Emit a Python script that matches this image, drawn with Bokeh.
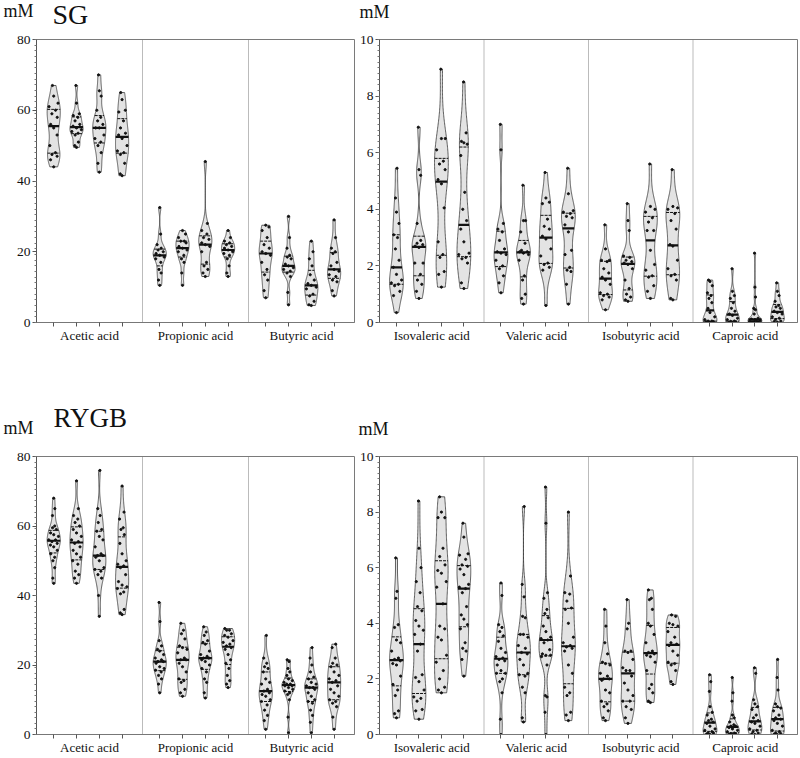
import numpy as np
from bokeh.plotting import figure
from bokeh.models import Range1d, FixedTicker, Span, Label
from bokeh.layouts import column, row
from bokeh.embed import file_html
from bokeh.resources import INLINE

# ---------------- data (mM), four groups per acid ----------------
MAJOR_ACIDS = ["Acetic acid", "Propionic acid", "Butyric acid"]
MINOR_ACIDS = ["Isovaleric acid", "Valeric acid", "Isobutyric acid", "Caproic acid"]
MAJOR_TICKS = [0, 20, 40, 60, 80]
MINOR_TICKS = [0, 2, 4, 6, 8, 10]

SG_ACETIC = [
    [67, 64, 62, 61, 60, 59, 58, 56, 55, 53, 50, 48, 47.5, 47, 46, 44],
    [67, 62, 59, 58.5, 58, 57, 56, 55.5, 55, 54.5, 54, 53.5, 53, 51, 50, 49.5],
    [70, 65.5, 64, 60, 58, 57, 56, 55, 55, 53, 52, 51, 50, 48, 45, 42.5],
    [65, 63, 60, 59.5, 57, 55, 53.5, 53, 52, 50, 48.5, 48, 47.5, 45, 42, 41.5],
]
SG_PROPIONIC = [
    [32.5, 25, 22, 21, 20.5, 20, 19.5, 19, 18.5, 18, 17, 15, 14, 12, 10.5],
    [26, 25, 24, 23, 23, 22.5, 21.5, 21, 20.5, 20, 19, 18, 17, 14, 10.5],
    [45.5, 28, 26, 25, 24, 23.5, 22.5, 22, 21.5, 20, 17, 16, 15, 14, 13],
    [26, 24, 23, 22.5, 22, 21.5, 21, 20.5, 20, 19.5, 19, 18, 16, 14, 13],
]
SG_BUTYRIC = [
    [27.5, 27, 26, 24, 22, 21, 20, 19.5, 19, 17, 15, 13.5, 12, 9, 7],
    [30, 24, 21, 19, 18.5, 18, 16.5, 16, 15.5, 15, 14.5, 14, 13, 8.5, 5],
    [23, 20, 18, 16, 13.5, 12, 11, 10.5, 10, 9.5, 8, 7.5, 6, 5, 4.8],
    [29, 24, 21, 20, 19.5, 17, 16, 15, 14.5, 13.5, 13, 12, 11.5, 9, 7.5],
]
SG_ISOVALERIC = [
    [5.45, 4.4, 3.9, 3.5, 3.1, 3.0, 2.6, 2.2, 1.95, 1.7, 1.5, 1.4, 1.35, 1.3, 1.1, 0.95, 0.35],
    [6.9, 5.4, 5.2, 3.5, 2.9, 2.8, 2.75, 2.7, 2.65, 2.1, 2.1, 1.7, 1.5, 1.35, 1.1, 0.85],
    [8.95, 6.5, 6.5, 6.1, 5.7, 5.6, 5.4, 5.05, 4.9, 4.05, 2.85, 2.4, 2.3, 1.8, 1.7, 1.25],
    [8.5, 6.7, 6.4, 6.35, 6.3, 5.9, 4.6, 4.0, 3.6, 3.3, 2.85, 2.45, 2.4, 2.3, 2.25, 2.1, 1.4, 1.2],
]
SG_VALERIC = [
    [7.0, 6.1, 3.5, 3.3, 3.2, 2.9, 2.6, 2.5, 2.45, 2.4, 2.2, 2.0, 1.9, 1.65, 1.4, 1.05],
    [4.85, 3.6, 3.6, 3.2, 2.8, 2.55, 2.5, 2.5, 2.45, 2.4, 2.2, 1.65, 1.5, 1.0, 0.85, 0.65],
    [5.3, 4.4, 4.25, 4.2, 3.65, 3.4, 3.3, 3.05, 2.95, 2.6, 2.35, 2.1, 2.05, 1.95, 1.85, 0.6],
    [5.45, 4.55, 3.95, 3.9, 3.85, 3.75, 3.7, 3.45, 3.2, 2.55, 2.4, 1.95, 1.85, 1.8, 1.35, 0.65],
]
SG_ISOBUTYRIC = [
    [3.45, 2.6, 2.2, 2.2, 2.15, 1.9, 1.75, 1.6, 1.5, 1.35, 1.05, 1.0, 0.95, 0.9, 0.8, 0.45],
    [4.2, 3.6, 3.25, 2.35, 2.3, 2.2, 2.15, 2.1, 2.05, 1.9, 1.5, 1.2, 1.0, 0.9, 0.8, 0.75],
    [5.6, 4.1, 4.0, 3.9, 3.7, 3.55, 3.25, 3.25, 2.55, 2.05, 1.85, 1.65, 1.6, 1.3, 1.1, 0.85],
    [5.4, 4.1, 4.05, 4.0, 3.85, 3.6, 3.3, 2.75, 2.7, 2.2, 1.9, 1.7, 1.65, 1.5, 0.85, 0.8],
]
SG_CAPROIC = [
    [1.5, 1.45, 1.3, 1.05, 0.95, 0.85, 0.7, 0.5, 0.35, 0.2, 0.1, 0.05, 0.05, 0.03, 0.02, 0.01],
    [1.9, 1.1, 0.95, 0.85, 0.7, 0.5, 0.4, 0.3, 0.25, 0.15, 0.1, 0.05, 0.04, 0.02, 0.01, 0.0],
    [2.45, 1.25, 0.9, 0.5, 0.45, 0.3, 0.15, 0.12, 0.1, 0.08, 0.05, 0.04, 0.03, 0.02, 0.01, 0.0],
    [1.4, 1.1, 0.95, 0.75, 0.6, 0.55, 0.5, 0.4, 0.35, 0.3, 0.2, 0.15, 0.1, 0.05, 0.03, 0.01],
]

RYGB_ACETIC = [
    [68, 65, 63, 60, 59.5, 59, 58, 57.5, 57, 56, 56, 55.5, 55, 54.5, 54, 53, 52, 51, 50, 48, 45, 43.5],
    [73, 65, 63, 62, 61, 60, 59, 58, 57, 56, 55.5, 55, 54, 53, 52, 51, 50, 49, 47, 46, 45, 43.5],
    [76, 65, 63, 61, 59, 58.5, 57, 56, 54, 52, 51.5, 51.5, 51, 50, 48, 47.5, 47, 46, 45, 40, 34],
    [71.5, 64, 62, 59.5, 59, 57.5, 55, 52, 50, 49, 48.5, 48, 46, 44, 43, 42.5, 42, 41, 40.5, 36, 35, 34.5],
]
RYGB_PROPIONIC = [
    [38, 32.5, 27, 25.5, 24.5, 24, 23, 22, 21.5, 21, 21, 20.5, 19.5, 19, 18.5, 18, 17, 16, 14.5, 12],
    [32, 30, 29, 27.5, 25.5, 25, 24.5, 23.5, 22, 21.5, 21.5, 20.5, 19.5, 18, 16, 15.5, 15, 13, 12, 11],
    [31, 29.5, 28.5, 27, 26.5, 26, 24, 23, 22.5, 22, 22, 21.5, 21, 20, 19, 18, 16, 15, 12, 10.5],
    [30.5, 30, 30, 29, 28.5, 28, 27, 26.5, 26, 25.5, 25, 24.5, 23, 21.5, 20.5, 19, 17, 15.5, 14.5, 13.5],
]
RYGB_BUTYRIC = [
    [28.5, 22, 20.5, 19.5, 19, 18, 16, 15, 14.5, 13, 12.5, 12, 11.5, 11, 10, 9.5, 8.5, 7, 5.5, 4, 1.5],
    [21.5, 21, 19, 18, 17, 16, 15.5, 15, 14.5, 14.5, 14, 14, 13.5, 13, 12.5, 12, 11.5, 10, 5, 0.5],
    [25, 22, 20, 18, 16.5, 16, 15, 14.5, 14, 13.5, 13.5, 13, 12, 11, 10, 9.5, 9, 7, 5.5, 3.5, 0.5],
    [26, 25, 22, 20.5, 20, 19.5, 18, 17, 16, 15.5, 15, 14, 13, 12, 11, 10, 9.5, 9, 8, 5, 1.5],
]
RYGB_ISOVALERIC = [
    [6.35, 5.15, 4.9, 3.95, 3.85, 3.4, 3.3, 3.0, 2.75, 2.7, 2.65, 2.55, 2.5, 2.1, 1.8, 1.6, 1.4, 0.85, 0.75, 0.6],
    [8.4, 6.7, 6.0, 5.5, 5.1, 4.6, 4.45, 4.1, 3.9, 3.75, 3.6, 3.25, 3.0, 2.15, 2.05, 1.9, 1.6, 1.35, 1.3, 1.2, 0.9, 0.85, 0.55],
    [8.55, 8.0, 7.8, 7.8, 6.7, 6.4, 6.1, 5.9, 5.8, 5.5, 5.3, 4.7, 3.9, 3.8, 3.5, 3.4, 2.85, 2.6, 2.3, 2.0, 1.7, 1.6, 1.5],
    [7.6, 7.1, 6.5, 6.45, 6.3, 6.1, 6.05, 5.95, 5.75, 5.4, 5.3, 5.25, 5.1, 4.6, 4.3, 4.15, 3.95, 3.8, 3.3, 3.1, 3.0, 2.7, 2.1],
]
RYGB_VALERIC = [
    [5.45, 5.0, 3.95, 3.85, 3.7, 3.55, 3.35, 3.1, 2.95, 2.8, 2.75, 2.7, 2.65, 2.5, 2.3, 2.2, 2.2, 2.0, 1.9, 1.5, 0.55, 0.0],
    [8.2, 5.4, 4.95, 4.25, 4.2, 3.6, 3.6, 3.5, 3.2, 3.1, 2.95, 2.9, 2.7, 2.5, 2.2, 2.15, 2.1, 1.7, 1.5, 0.6, 0.45],
    [8.9, 7.6, 5.1, 4.9, 4.5, 4.35, 4.2, 3.9, 3.7, 3.5, 3.45, 3.4, 3.3, 3.05, 2.9, 2.85, 2.85, 2.8, 2.5, 1.4, 1.35, 0.8, 0.0],
    [8.0, 5.7, 5.1, 5.05, 4.8, 4.55, 4.5, 4.0, 3.5, 3.3, 3.2, 3.15, 3.1, 3.0, 2.5, 2.2, 1.7, 1.5, 1.4, 0.8, 0.7, 0.5],
]
RYGB_ISOBUTYRIC = [
    [4.5, 3.9, 3.3, 2.9, 2.6, 2.55, 2.5, 2.2, 2.1, 2.0, 2.0, 1.95, 1.6, 1.5, 1.2, 1.1, 1.0, 0.85, 0.6, 0.5],
    [4.85, 4.0, 3.8, 3.0, 3.0, 2.95, 2.7, 2.4, 2.3, 2.3, 2.1, 1.85, 1.6, 1.4, 1.2, 1.2, 1.0, 0.9, 0.6, 0.4],
    [5.2, 4.9, 4.85, 4.5, 4.0, 3.9, 3.6, 3.3, 3.0, 2.95, 2.9, 2.85, 2.8, 2.6, 2.3, 1.8, 1.65, 1.5, 1.2, 1.15],
    [4.3, 4.25, 4.0, 3.95, 3.9, 3.7, 3.5, 3.3, 3.25, 3.2, 3.0, 2.85, 2.6, 2.55, 2.5, 2.3, 1.9, 1.8],
]
RYGB_CAPROIC = [
    [2.15, 1.9, 1.55, 1.0, 0.8, 0.7, 0.55, 0.5, 0.45, 0.4, 0.3, 0.2, 0.15, 0.1, 0.05, 0.05, 0.02, 0.0],
    [2.05, 1.5, 1.2, 0.7, 0.6, 0.45, 0.35, 0.3, 0.3, 0.25, 0.2, 0.15, 0.1, 0.05, 0.03, 0.02, 0.01, 0.0],
    [2.4, 2.2, 1.25, 1.1, 1.0, 0.9, 0.7, 0.6, 0.5, 0.45, 0.4, 0.3, 0.2, 0.15, 0.1, 0.05, 0.02, 0.0],
    [2.7, 2.05, 1.6, 1.1, 1.0, 0.95, 0.85, 0.7, 0.6, 0.55, 0.5, 0.4, 0.3, 0.15, 0.1, 0.05, 0.03, 0.01, 0.0],
]

# ---------------- styling ----------------
FONT = "Liberation Serif"
FILL = "#e3e3e3"
EDGE = "#3a3a3a"
BW_FACTOR = 0.75
GROUP_SPACING = 0.215
GROUP_CENTER = 0.485
JITTER = [0.0, -0.55, 0.55, -0.28, 0.28, -0.75, 0.75]


def kde_width(d, bw):
    def f(y):
        y = np.atleast_1d(np.asarray(y, float))
        return np.exp(-0.5 * ((y[:, None] - d[None, :]) / bw) ** 2).sum(axis=1)
    return f


def add_violin(p, xc, vals, hw):
    d = np.sort(np.asarray(vals, float))
    n = len(d)
    q1, med, q3 = np.percentile(d, [25, 50, 75])
    sd = d.std(ddof=1)
    spread = min(sd, (q3 - q1) / 1.34) if q3 > q1 else sd
    bw = max(0.9 * spread * n ** -0.2 * BW_FACTOR, 1e-6)
    dens = kde_width(d, bw)
    grid = np.linspace(d[0], d[-1], 160)
    g = dens(grid)
    m = g.max()
    w = g / m * hw
    xs = np.concatenate([xc - w, (xc + w)[::-1]])
    ys = np.concatenate([grid, grid[::-1]])
    p.patch(xs, ys, fill_color=FILL, line_color=EDGE, line_width=0.8)
    for q, lw, dash in ((q1, 1.0, "3 1"), (q3, 1.0, "3 1"), (med, 2.2, "solid")):
        wq = dens(q)[0] / m * hw
        p.line([xc - wq, xc + wq], [q, q], line_color="#111111", line_width=lw, line_dash=dash)
    wp = dens(d) / m * hw
    px = [xc + JITTER[i % len(JITTER)] * wp[i] for i in range(n)]
    p.scatter(px, d, size=2.2, color="#111111")


def make_panel(groups, cats, ymax, yticks, width, height, bl, br, bt, bb, hw):
    ncat = len(cats)
    p = figure(width=width, height=height, x_range=Range1d(0, ncat), y_range=Range1d(0, ymax),
               output_backend="svg", toolbar_location=None,
               min_border_left=bl, min_border_right=br, min_border_top=bt, min_border_bottom=bb)
    p.xgrid.visible = False
    p.ygrid.visible = False
    p.outline_line_color = "#7a7a7a"
    p.outline_line_width = 1
    p.background_fill_color = "white"
    p.border_fill_color = "white"

    positions = []
    for c, grp in enumerate(groups):
        for k, vals in enumerate(grp):
            xc = c + GROUP_CENTER + (k - 1.5) * GROUP_SPACING
            positions.append(xc)
            add_violin(p, xc, vals, hw)
    for c in range(1, ncat):
        p.add_layout(Span(location=c, dimension="height", line_color="#777777",
                          line_dash="1 1", line_width=1))

    centers = [c + 0.5 for c in range(ncat)]
    p.xaxis.ticker = FixedTicker(ticks=centers, minor_ticks=positions)
    p.xaxis.major_label_overrides = {c + 0.5: name for c, name in enumerate(cats)}
    p.xaxis.major_tick_out = 0
    p.xaxis.major_tick_in = 0
    p.xaxis.minor_tick_out = 4
    p.xaxis.minor_tick_in = 0
    p.xaxis.major_label_standoff = 1
    p.xaxis.axis_line_color = "#777777"
    p.xaxis.minor_tick_line_color = "#555555"
    p.xaxis.major_label_text_font = FONT
    p.xaxis.major_label_text_font_size = "13px"
    p.xaxis.major_label_text_color = "#111111"

    step = ymax / 50.0
    p.yaxis.ticker = FixedTicker(ticks=yticks, minor_ticks=[i * step for i in range(51)])
    p.yaxis.major_tick_out = 4
    p.yaxis.major_tick_in = 0
    p.yaxis.minor_tick_out = 2
    p.yaxis.minor_tick_in = 0
    p.yaxis.major_label_standoff = 2
    p.yaxis.axis_line_color = "#555555"
    p.yaxis.major_tick_line_color = "#555555"
    p.yaxis.minor_tick_line_color = "#777777"
    p.yaxis.major_label_text_font = FONT
    p.yaxis.major_label_text_font_size = "13.5px"
    p.yaxis.major_label_text_color = "#111111"
    return p


def make_header(height, items):
    # a strip whose frame fills it, so its labels are not clipped
    h = figure(width=798, height=height, x_range=Range1d(0, 798), y_range=Range1d(height, 0),
               x_axis_type=None, y_axis_type=None, output_backend="svg", toolbar_location=None,
               min_border_left=0, min_border_right=0, min_border_top=0, min_border_bottom=0)
    h.outline_line_color = None
    h.xgrid.visible = False
    h.ygrid.visible = False
    h.background_fill_color = "white"
    h.border_fill_color = "white"
    for text, x, y, size in items:
        h.add_layout(Label(x=x, y=y, text=text, text_font=FONT, text_font_size="%dpx" % size,
                           text_baseline="alphabetic", text_align="left", text_color="#111111"))
    return h


# ---------------- panels ----------------
tl = make_panel([SG_ACETIC, SG_PROPIONIC, SG_BUTYRIC], MAJOR_ACIDS, 80, MAJOR_TICKS,
                355, 340, 36, 1, 9, 48, 0.062)
tr = make_panel([SG_ISOVALERIC, SG_VALERIC, SG_ISOBUTYRIC, SG_CAPROIC], MINOR_ACIDS, 10, MINOR_TICKS,
                443, 340, 24, 1, 9, 48, 0.066)
bl = make_panel([RYGB_ACETIC, RYGB_PROPIONIC, RYGB_BUTYRIC], MAJOR_ACIDS, 80, MAJOR_TICKS,
                355, 310, 36, 1, 9, 22, 0.062)
br = make_panel([RYGB_ISOVALERIC, RYGB_VALERIC, RYGB_ISOBUTYRIC, RYGB_CAPROIC], MINOR_ACIDS, 10, MINOR_TICKS,
                443, 310, 24, 1, 9, 22, 0.066)

# header texts: (text, x, y, font px); y shifted up ~0.4 em for the label's baseline handling
head1 = make_header(30, [("mM", 3, 10, 18), ("SG", 52, 14, 28), ("mM", 359, 11, 18)])
head2 = make_header(77, [("mM", 3, 57, 18), ("RYGB", 53, 47, 27), ("mM", 358, 58, 18)])

layout = column(head1, row(tl, tr), head2, row(bl, br))
open("out.html", "w").write(file_html(layout, INLINE))
